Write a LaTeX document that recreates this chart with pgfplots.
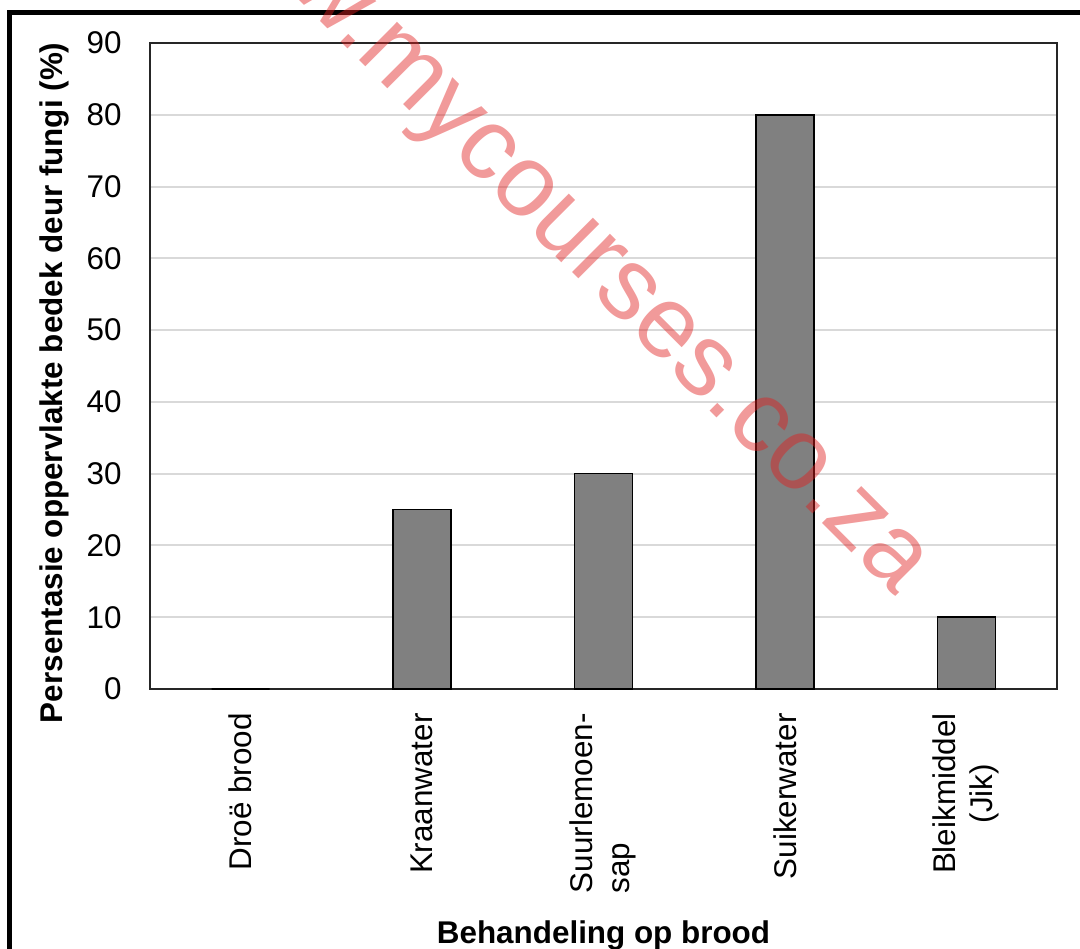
\documentclass[border=0pt]{standalone}
\usepackage{pgfplots}
\pgfplotsset{compat=1.18}
\usepackage{fontspec}
\setmainfont{Liberation Sans}
\newcommand\lab{\fontsize{15.7}{18.8}\selectfont}
\definecolor{barfill}{RGB}{128,128,128}
\definecolor{gridc}{RGB}{217,217,217}
\definecolor{wmark}{RGB}{225,30,30}
\begin{document}
\begin{tikzpicture}
\useasboundingbox (0,0) rectangle (540pt,474pt);
% outer frame, cut off on right and bottom
\begin{scope}
\clip (0,0) rectangle (540pt,474pt);
\draw[line width=2.2pt] (4.75pt,-20pt) rectangle (560pt,467.75pt);
\end{scope}
\begin{axis}[
    at={(75pt,129.5pt)}, anchor=south west,
    scale only axis,
    width=453.5pt, height=323pt,
    xmin=-0.5, xmax=4.5,
    ymin=0, ymax=90,
    ytick={0,10,...,90},
    xtick=data,
    xticklabels={Droë brood, Kraanwater,
        {\begin{tabular}{@{}l@{}}Suurlemoen-\\sap\end{tabular}},
        Suikerwater,
        {\begin{tabular}{@{}c@{}}Bleikmiddel\\(Jik)\end{tabular}}},
    major tick length=0pt,
    ymajorgrids,
    grid style={gridc, line width=1pt},
    axis line style={black!85, line width=0.9pt},
    /pgf/number format/assume math mode=true,
    tick label style={font=\lab},
    xticklabel style={rotate=90, anchor=east, inner sep=0pt},
    xticklabel shift=12pt,
    yticklabel style={inner sep=0pt},
    yticklabel shift=14pt,
    xlabel={\textbf{Behandeling op brood}},
    ylabel={\textbf{Persentasie oppervlakte bedek deur fungi (\%)}},
    label style={font=\lab},
    xlabel style={at={(axis description cs:0.5,-0.381)}, anchor=center},
    ylabel style={at={(axis description cs:-0.1058,0.474)}, anchor=center},
]
\addplot[ybar, bar width=29pt, fill=barfill, draw=black, line width=0.75pt]
    coordinates {(0,0) (1,25) (2,30) (3,80) (4,10)};
\end{axis}
% watermark
\begin{scope}[transparency group, opacity=0.45]
\node[rotate=-45, anchor=base, text=wmark,
      font=\fontsize{51}{60}\selectfont, inner sep=0pt]
    at (269.5pt,354pt) {www.mycourses.co.za};
\end{scope}
\end{tikzpicture}
\end{document}
